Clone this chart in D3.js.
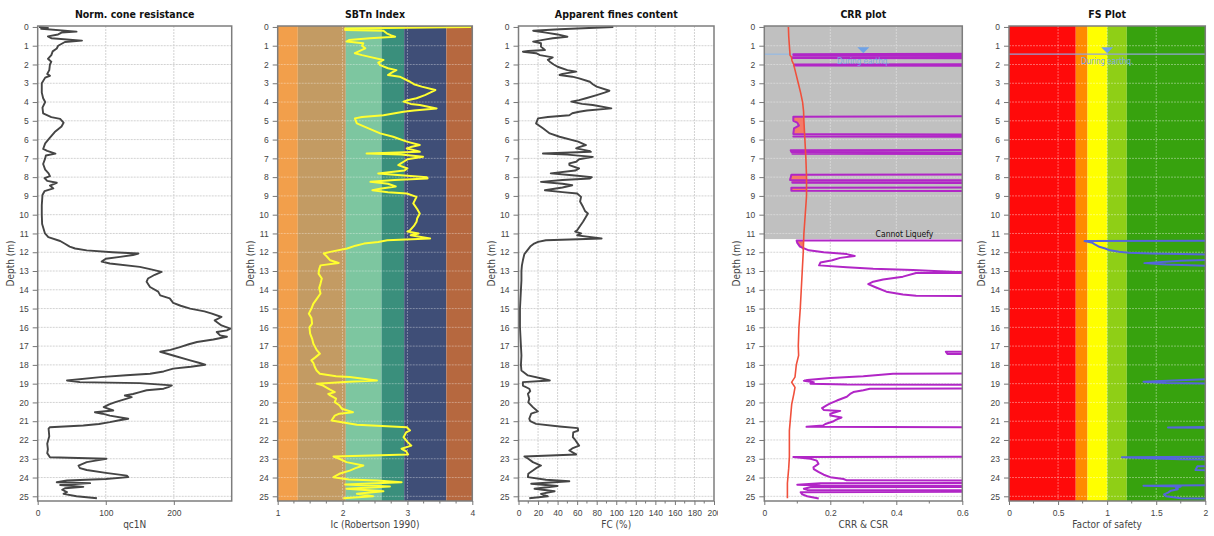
<!DOCTYPE html>
<html><head><meta charset="utf-8">
<script src="https://cdn.jsdelivr.net/npm/d3@7"></script>
<style>
body{margin:0;background:#fff}
text{font-family:"DejaVu Sans Condensed","DejaVu Sans",sans-serif}
</style>
</head><body>
<svg id="c" width="1214" height="536"></svg>
<script>
// ---------------- DATA ----------------
const depthTicks = [0,1,2,3,4,5,6,7,8,9,10,11,12,13,14,15,16,17,18,19,20,21,22,23,24,25];
const qcTicks = [0,100,200];
const icTicks = [1,2,3,4];
const fcTicks = [0,20,40,60,80,100,120,140,160,180,200];
const crrTicks = [0,0.2,0.4,0.6];
const fsTicks = [0,0.5,1,1.5,2];

// SBTn zone boundaries (Ic) and FS class boundaries
const icZones = [1,1.31,2.05,2.6,2.95,3.6,4];
const fsZones = [0,0.68,0.8,1.0,1.2,2];
const gwtDepth = 1.45;
const cannotLiquefyDepth = 11.3;

// [depth (m), qc1N]
const qc1N = [[0.0,2],[0.05,15],[0.1,5],[0.25,57],[0.3,35],[0.4,30],[0.5,15],[0.6,20],[0.73,65],[0.8,40],[1.0,30],[1.15,28],[1.3,22],[1.5,20],[1.7,15],[1.85,20],[2.0,18],[2.3,17],[2.5,14],[2.6,18],[2.7,11],[3.0,6],[3.5,6],[3.8,8],[4.0,11],[4.3,7],[4.6,8],[4.8,20],[4.9,33],[5.1,38],[5.3,35],[5.6,25],[5.9,18],[6.2,11],[6.5,8],[6.6,14],[6.75,26],[6.85,12],[7.0,11],[7.3,8],[7.6,11],[7.8,16],[7.95,18],[8.05,10],[8.2,14],[8.3,28],[8.45,18],[8.6,23],[8.75,10],[8.95,7],[9.5,6],[10,6],[10.5,6.5],[11.0,10.7],[11.2,15.6],[11.4,33],[11.55,40],[11.7,47],[11.8,55],[11.9,72],[12.0,110],[12.07,148],[12.15,140],[12.25,121],[12.35,100],[12.5,94],[12.6,106],[12.78,150],[12.9,165],[13.05,182],[13.2,172],[13.4,162],[13.57,160],[13.85,165],[14.1,177],[14.3,180],[14.46,194],[14.7,199],[14.85,210],[15.0,224],[15.15,245],[15.27,256],[15.45,270],[15.63,260],[15.9,270],[16.07,283],[16.16,278],[16.25,263],[16.43,268],[16.5,278],[16.65,258],[16.78,234],[16.9,222],[17.05,209],[17.2,195],[17.3,180],[17.5,199],[17.76,224],[17.9,238],[17.99,246],[18.1,225],[18.2,199],[18.35,185],[18.47,165],[18.55,130],[18.65,92],[18.83,43],[18.92,62],[18.97,150],[19.09,197],[19.18,192],[19.27,185],[19.35,160],[19.45,150],[19.55,140],[19.63,128],[19.72,138],[19.8,131],[19.98,114],[20.1,105],[20.25,97],[20.43,111],[20.52,84],[20.6,95],[20.7,106],[20.87,133],[20.95,120],[21.05,106],[21.15,90],[21.23,67],[21.32,18],[21.4,16],[21.8,17],[22.2,14],[22.5,15],[22.7,14],[22.92,18],[23.0,101],[23.1,85],[23.18,72],[23.36,60],[23.5,62],[23.6,72],[23.75,100],[23.9,131],[23.98,133],[24.08,100],[24.16,43],[24.25,28],[24.3,77],[24.4,33],[24.5,67],[24.57,40],[24.65,36],[24.78,43],[24.87,38],[25.0,57],[25.1,87]];

// [depth, Ic]
const icRobertson = [[0.0,3.98],[0.08,2.04],[0.16,2.04],[0.2,2.63],[0.34,2.68],[0.45,2.75],[0.52,2.81],[0.6,2.42],[0.7,2.1],[0.78,2.06],[0.87,2.32],[1.0,2.3],[1.14,2.35],[1.3,2.25],[1.4,2.19],[1.5,2.3],[1.58,2.4],[1.76,2.63],[1.9,2.55],[2.03,2.58],[2.2,2.7],[2.3,2.83],[2.45,2.75],[2.56,2.7],[2.65,2.88],[2.92,3.04],[3.05,3.1],[3.18,3.22],[3.36,3.43],[3.5,3.35],[3.63,3.27],[3.8,3.14],[3.9,3.0],[3.98,2.94],[4.1,3.05],[4.16,3.19],[4.34,3.45],[4.45,3.1],[4.52,2.94],[4.7,2.63],[4.8,2.3],[4.87,2.19],[5.14,2.22],[5.4,2.4],[5.67,2.58],[5.85,2.78],[6.11,2.99],[6.29,3.19],[6.4,3.05],[6.47,2.99],[6.6,3.15],[6.65,3.19],[6.74,2.37],[6.8,2.9],[6.92,3.24],[7.05,3.0],[7.18,2.94],[7.27,2.9],[7.36,2.86],[7.54,3.0],[7.65,2.95],[7.8,2.55],[7.9,2.9],[8.0,3.3],[8.07,3.31],[8.15,2.8],[8.25,2.43],[8.35,2.7],[8.5,2.82],[8.6,2.6],[8.7,2.46],[8.8,2.7],[8.87,2.99],[9.05,3.14],[9.4,3.09],[9.7,3.15],[9.94,3.19],[10.2,3.15],[10.38,3.14],[10.6,3.1],[10.83,3.04],[10.9,3.0],[11.0,3.17],[11.1,3.05],[11.27,3.35],[11.36,2.69],[11.45,2.55],[11.54,2.33],[11.65,2.2],[11.8,2.07],[11.98,1.81],[12.07,1.71],[12.2,1.75],[12.43,1.81],[12.57,1.94],[12.7,1.66],[12.9,1.64],[13.14,1.63],[13.4,1.68],[13.67,1.66],[13.9,1.64],[14.2,1.66],[14.5,1.6],[14.74,1.55],[15.0,1.52],[15.27,1.48],[15.5,1.52],[15.8,1.53],[16.0,1.49],[16.34,1.5],[16.6,1.53],[16.87,1.55],[17.0,1.57],[17.2,1.6],[17.4,1.65],[17.6,1.58],[17.76,1.52],[17.9,1.55],[18.1,1.57],[18.3,1.6],[18.47,1.65],[18.6,1.9],[18.65,2.11],[18.83,2.53],[18.9,2.1],[19.0,1.6],[19.1,1.7],[19.3,1.8],[19.45,1.88],[19.55,1.78],[19.63,1.81],[19.8,1.9],[19.98,1.88],[20.15,1.95],[20.34,1.99],[20.52,2.16],[20.6,1.95],[20.7,1.88],[20.96,1.83],[21.19,2.22],[21.32,2.99],[21.49,3.04],[21.6,2.98],[21.85,2.94],[22.1,3.0],[22.3,3.06],[22.47,2.91],[22.6,2.98],[22.77,3.01],[22.88,1.86],[23.0,1.95],[23.18,2.06],[23.36,2.32],[23.5,2.2],[23.63,2.11],[23.8,1.95],[23.98,1.86],[24.1,2.1],[24.16,2.53],[24.25,2.91],[24.37,2.04],[24.48,2.73],[24.6,2.06],[24.73,2.63],[24.87,2.22],[25.0,2.47],[25.1,2.01]];

// [depth, FC %]
const finesContent = [[0.0,97],[0.08,60],[0.12,42],[0.2,15],[0.3,28],[0.4,40],[0.52,50],[0.6,35],[0.66,28],[0.78,15],[0.87,23],[1.05,23],[1.23,27],[1.28,10],[1.32,4.5],[1.4,18],[1.5,22],[1.62,35],[1.75,30],[1.85,32],[2.0,36],[2.12,40],[2.3,50],[2.38,59],[2.5,45],[2.56,42],[2.65,55],[2.74,62],[2.92,73],[3.05,76],[3.18,80],[3.4,93],[3.5,88],[3.63,80],[3.8,69],[3.9,62],[3.98,54],[4.1,65],[4.16,76],[4.34,95],[4.45,70],[4.52,62],[4.6,55],[4.7,52],[4.8,30],[4.87,20],[5.14,18],[5.4,25],[5.67,32],[5.85,42],[6.11,61],[6.29,69],[6.4,62],[6.47,59],[6.6,72],[6.65,74],[6.74,25],[6.8,50],[6.92,76],[7.05,62],[7.18,59],[7.27,52],[7.36,52],[7.54,62],[7.65,58],[7.8,33],[7.9,55],[8.0,75],[8.07,73],[8.15,45],[8.25,23],[8.35,45],[8.43,55],[8.55,45],[8.7,27],[8.8,45],[8.87,60],[9.05,64],[9.3,63],[9.58,66],[9.8,68],[9.94,71],[10.2,68],[10.38,66],[10.6,63],[10.83,60],[10.9,58],[11.0,64],[11.1,60],[11.27,85],[11.36,28],[11.45,20],[11.54,16],[11.7,12],[11.9,9],[12.1,6],[12.43,4.5],[12.7,3.5],[13.0,3],[13.5,3],[14,2.5],[14.5,2],[15,1.5],[15.5,1.5],[16,1.5],[16.5,2],[17,2.5],[17.5,3],[18,2.5],[18.3,3],[18.56,9.6],[18.74,25],[18.83,32],[18.92,4.5],[19.1,4.5],[19.27,11],[19.4,12],[19.54,9.6],[19.8,11],[20.0,10],[20.25,14.7],[20.48,19.8],[20.6,13],[20.87,11],[21.0,12],[21.14,18],[21.28,42],[21.37,60.7],[21.5,61],[21.6,56],[21.85,55.6],[22.0,58],[22.3,62],[22.45,55],[22.56,52],[22.77,59],[22.88,6],[23.0,10],[23.18,14.7],[23.36,23],[23.5,18],[23.63,14.7],[23.8,10],[23.98,9.6],[24.12,28],[24.2,52],[24.33,13],[24.45,40],[24.6,16.4],[24.73,37],[24.87,23],[25.0,30],[25.1,11]];

// [depth, CRR]  (values of 1.0 lie beyond the 0.6 axis limit)
const crr = [[1.40,1.0],[1.45,0.088],[1.50,0.088],[1.51,1.0],[1.60,1.0],[1.62,0.085],[1.66,0.086],[1.67,1.0],[1.98,1.0],[2.0,0.09],[2.06,0.09],[2.07,1.0],[4.75,1.0],[4.78,0.088],[5.0,0.088],[5.1,0.1],[5.25,0.105],[5.4,0.09],[5.7,0.088],[5.75,1.0],[5.8,1.0],[5.83,0.088],[5.86,1.0],[6.55,1.0],[6.57,0.08],[6.66,0.082],[6.7,1.0],[6.72,1.0],[6.75,0.085],[6.78,1.0],[7.85,1.0],[7.87,0.082],[8.15,0.078],[8.17,1.0],[8.18,1.0],[8.21,0.085],[8.3,0.085],[8.32,1.0],[8.55,1.0],[8.57,0.082],[8.72,0.082],[8.75,1.0],[11.36,1.0],[11.38,0.098],[11.5,0.1],[11.7,0.108],[11.9,0.135],[12.0,0.18],[12.1,0.25],[12.2,0.274],[12.3,0.23],[12.43,0.206],[12.55,0.17],[12.7,0.166],[12.8,0.25],[12.88,0.33],[12.95,0.45],[13.05,0.58],[13.07,1.0],[13.09,1.0],[13.11,0.46],[13.3,0.42],[13.45,0.36],[13.57,0.33],[13.7,0.315],[13.85,0.335],[14.1,0.37],[14.25,0.42],[14.32,0.46],[14.37,1.0],[17.28,1.0],[17.3,0.55],[17.42,0.555],[17.44,1.0],[18.45,1.0],[18.47,0.39],[18.6,0.3],[18.7,0.2],[18.8,0.13],[18.85,0.12],[18.92,0.15],[19.0,0.14],[19.05,0.25],[19.07,1.0],[19.25,1.0],[19.27,0.32],[19.35,0.3],[19.45,0.27],[19.55,0.26],[19.7,0.25],[19.9,0.22],[20.05,0.2],[20.14,0.19],[20.3,0.175],[20.4,0.18],[20.45,0.23],[20.5,0.22],[20.6,0.2],[20.7,0.2],[20.8,0.234],[20.9,0.22],[21.0,0.21],[21.15,0.185],[21.23,0.178],[21.3,0.128],[21.33,1.0],[22.88,1.0],[22.91,0.088],[23.0,0.14],[23.1,0.159],[23.27,0.164],[23.45,0.149],[23.55,0.15],[23.7,0.164],[23.85,0.18],[23.98,0.2],[24.08,0.24],[24.15,0.25],[24.18,1.0],[24.28,1.0],[24.3,0.17],[24.38,0.1],[24.42,0.17],[24.45,1.0],[24.5,1.0],[24.52,0.14],[24.6,0.12],[24.66,0.13],[24.68,1.0],[24.75,1.0],[24.78,0.11],[24.9,0.115],[25.0,0.13],[25.12,0.165]];

// [depth, CSR]
const csr = [[0,0.073],[0.5,0.074],[1.0,0.076],[1.5,0.078],[1.6,0.082],[1.8,0.084],[2.0,0.089],[2.5,0.096],[3.0,0.103],[3.5,0.11],[4.0,0.116],[4.5,0.119],[5.0,0.12],[6.0,0.123],[7.0,0.126],[8.0,0.128],[9.0,0.128],[10.0,0.124],[11.0,0.12],[12.0,0.118],[13,0.115],[14,0.112],[15,0.109],[16,0.105],[17,0.103],[17.5,0.104],[18,0.097],[18.65,0.093],[18.92,0.083],[19.2,0.093],[19.5,0.09],[20.1,0.083],[21.5,0.076],[22.9,0.076],[23.5,0.074],[24.3,0.07],[25.1,0.07]];

// [depth, FS]  (values of 2.5 lie beyond the 2.0 axis limit)
const factorOfSafety = [[11.38,2.5],[11.40,0.77],[11.5,0.85],[11.6,0.88],[11.71,0.92],[11.8,0.98],[11.9,1.03],[11.98,1.12],[12.03,1.22],[12.07,1.45],[12.1,1.76],[12.15,2.5],[12.35,2.5],[12.45,1.75],[12.58,1.38],[12.65,1.6],[12.72,2.0],[12.78,2.5],[18.7,2.5],[18.8,1.8],[18.9,1.37],[18.96,1.6],[19.02,2.5],[21.28,2.5],[21.33,1.62],[21.37,2.5],[22.88,2.5],[22.92,1.15],[22.98,1.5],[23.03,1.75],[23.06,2.5],[23.35,2.5],[23.4,1.92],[23.6,1.9],[23.68,2.5],[24.4,2.5],[24.44,1.37],[24.48,1.75],[24.55,1.7],[24.62,1.72],[24.7,1.65],[24.8,1.62],[24.9,1.58],[25.0,1.6],[25.1,1.75],[25.15,2.5]];

// ---------------- STYLE / LAYOUT ----------------
const icColors = ["#f29f4b","#c39b63","#7dc6a0","#3a8f7c","#3f4e77","#b6683f"];
const fsColors = ["#ff0a0a","#ff8a00","#ffff00","#8fcf16","#37a20e"];

const svg = d3.select("#c");
const PY0 = 26, PY1 = 501;
const y = d3.scaleLinear().domain([-0.05, 25.25]).range([PY0, PY1]);
const FS_T = 8.5, FS_L = 10;

function makePanel(o) {
  const x = d3.scaleLinear().domain(o.domain).range([o.left, o.right]);
  const g = svg.append("g");
  const cid = "clip" + o.key;
  svg.append("defs").append("clipPath").attr("id", cid).append("rect")
    .attr("x", o.left).attr("y", PY0).attr("width", o.right - o.left).attr("height", PY1 - PY0);
  const bg = g.append("g").attr("clip-path", `url(#${cid})`);
  const grid = g.append("g").attr("clip-path", `url(#${cid})`);
  const marks = g.append("g").attr("clip-path", `url(#${cid})`);

  grid.selectAll("line.h").data(depthTicks.slice(1)).join("line")
    .attr("x1", o.left).attr("x2", o.right).attr("y1", d => y(d)).attr("y2", d => y(d))
    .attr("stroke", o.gridColor).attr("stroke-width", 1).attr("stroke-dasharray", "2,1");
  grid.selectAll("line.v").data(o.grid).join("line")
    .attr("y1", PY0).attr("y2", PY1).attr("x1", d => x(d)).attr("x2", d => x(d))
    .attr("stroke", o.gridColor).attr("stroke-width", 1).attr("stroke-dasharray", "2,1");

  svg.append("text").attr("x", (o.left + o.right) / 2).attr("y", 18).attr("text-anchor", "middle")
    .attr("font-size", 10.5).attr("font-weight", "bold").attr("fill", "#111").text(o.title);

  const la = svg.append("g").attr("transform", `translate(${o.left},0)`)
    .call(d3.axisLeft(y).tickValues(depthTicks).tickSize(5).tickPadding(4));
  la.select(".domain").remove();
  la.selectAll("line").attr("stroke", "#777");
  la.selectAll("text").attr("font-size", FS_T).attr("fill", "#444").style("font-family", "inherit");

  const ba = svg.append("g").attr("transform", `translate(0,${PY1})`);
  if (o.clipAxisRight) {
    svg.append("defs").append("clipPath").attr("id", cid + "ax").append("rect")
      .attr("x", o.left - 20).attr("y", -5).attr("width", o.clipAxisRight - o.left + 20).attr("height", 40);
    ba.attr("clip-path", `url(#${cid}ax)`);
  }
  ba.call(d3.axisBottom(x).tickValues(o.ticks).tickSize(4).tickPadding(5).tickFormat(o.fmt || (d => d)));
  ba.select(".domain").remove();
  ba.selectAll("line").attr("stroke", "#777");
  ba.selectAll("text").attr("font-size", FS_T).attr("fill", "#444").style("font-family", "inherit");
  if (o.minor) {
    ba.selectAll("line.minor").data(o.minor).join("line").attr("class", "minor")
      .attr("x1", d => x(d)).attr("x2", d => x(d)).attr("y1", 0).attr("y2", 2.5).attr("stroke", "#777");
  }

  svg.append("text").attr("x", (o.left + o.right) / 2).attr("y", 527.5).attr("text-anchor", "middle")
    .attr("font-size", FS_L).attr("fill", "#444").text(o.xlabel);
  svg.append("text").attr("transform", `translate(${o.left - 24},${(PY0 + PY1) / 2}) rotate(-90)`)
    .attr("text-anchor", "middle").attr("font-size", FS_L).attr("fill", "#444").text("Depth (m)");

  return { x, g, bg, grid, marks, frame: () =>
    g.append("rect").attr("x", o.left).attr("y", PY0).attr("width", o.right - o.left).attr("height", PY1 - PY0)
      .attr("fill", "none").attr("stroke", "#7d7d7d").attr("stroke-width", 1.5) };
}

const profileLine = (x) => d3.line().x(d => x(d[1])).y(d => y(d[0]));

// ---- Panel 1: qc1N
const p1 = makePanel({ key: "p1", left: 37.7, right: 231.7, domain: [0, 285], ticks: qcTicks, grid: [100, 200],
  gridColor: "#d2d2d2", title: "Norm. cone resistance", xlabel: "qc1N" });
p1.marks.append("path").datum(qc1N).attr("d", profileLine(p1.x)).attr("fill", "none")
  .attr("stroke", "#454545").attr("stroke-width", 1.9).attr("stroke-linejoin", "round");
p1.frame();

// ---- Panel 2: SBTn Index
const p2 = makePanel({ key: "p2", left: 277.7, right: 472.3, domain: [1, 4], ticks: icTicks, grid: [2, 3],
  gridColor: "rgba(255,255,255,0.35)", title: "SBTn Index", xlabel: "Ic (Robertson 1990)",
  minor: [1.25, 1.5, 1.75, 2.25, 2.5, 2.75, 3.25, 3.5, 3.75] });
p2.bg.selectAll("rect").data(d3.pairs(icZones)).join("rect")
  .attr("x", d => p2.x(d[0])).attr("width", d => p2.x(d[1]) - p2.x(d[0]))
  .attr("y", PY0).attr("height", PY1 - PY0).attr("fill", (d, i) => icColors[i]);
p2.marks.append("path").datum(icRobertson).attr("d", profileLine(p2.x)).attr("fill", "none")
  .attr("stroke", "#ffff30").attr("stroke-width", 2).attr("stroke-linejoin", "round");
p2.frame();

// ---- Panel 3: Apparent fines content
const p3 = makePanel({ key: "p3", left: 518.5, right: 714, domain: [0, 200], ticks: fcTicks,
  grid: [20, 40, 60, 80, 100, 120, 140, 160, 180], gridColor: "#d2d2d2",
  title: "Apparent fines content", xlabel: "FC (%)", clipAxisRight: 718,
  minor: [10, 30, 50, 70, 90, 110, 130, 150, 170, 190] });
p3.marks.append("path").datum(finesContent).attr("d", profileLine(p3.x)).attr("fill", "none")
  .attr("stroke", "#454545").attr("stroke-width", 1.9).attr("stroke-linejoin", "round");
p3.frame();

// ---- Panel 4: CRR plot
const p4 = makePanel({ key: "p4", left: 764.3, right: 962.3, domain: [0, 0.6], ticks: crrTicks, grid: [0.2, 0.4],
  gridColor: "#d6d6d6", title: "CRR plot", xlabel: "CRR & CSR", fmt: d => d, minor: [0.1, 0.3, 0.5] });
p4.bg.append("rect").attr("x", 764.3).attr("width", 198).attr("y", PY0)
  .attr("height", y(cannotLiquefyDepth) - PY0).attr("fill", "#c0c0c0");
const csrAt = d => {
  for (let i = 1; i < csr.length; i++) {
    if (d <= csr[i][0]) { const a = csr[i - 1], b = csr[i]; return a[1] + (b[1] - a[1]) * (d - a[0]) / (b[0] - a[0]); }
  }
  return csr[csr.length - 1][1];
};
p4.marks.append("path").datum(crr)
  .attr("d", d3.area().y(d => y(d[0])).x0(d => p4.x(Math.min(d[1], csrAt(d[0])))).x1(d => p4.x(csrAt(d[0]))))
  .attr("fill", "#f47a68").attr("stroke", "none");
p4.marks.append("line").attr("x1", 764.3).attr("x2", 962.3).attr("y1", y(gwtDepth)).attr("y2", y(gwtDepth))
  .attr("stroke", "#8cb8ea").attr("stroke-width", 1);
p4.marks.append("path").datum(crr).attr("d", profileLine(p4.x)).attr("fill", "none")
  .attr("stroke", "#b126c6").attr("stroke-width", 2).attr("stroke-linejoin", "round");
p4.marks.append("path").datum(csr).attr("d", profileLine(p4.x)).attr("fill", "none")
  .attr("stroke", "#f0503c").attr("stroke-width", 1.6);
function gwtMarker(p, xv) {
  const cx = p.x(xv), yy = y(gwtDepth);
  p.g.append("path").attr("d", `M${cx - 6},${yy - 7}L${cx + 6},${yy - 7}L${cx},${yy - 1}Z`).attr("fill", "#6fa2e6");
  p.g.append("text").attr("x", cx).attr("y", yy + 10).attr("text-anchor", "middle").attr("font-size", 8)
    .attr("fill", "#7aa6e6").text("During earthq.");
}
gwtMarker(p4, 0.3);
p4.g.append("text").attr("x", p4.x(0.6) - 29).attr("y", y(cannotLiquefyDepth) - 2).attr("text-anchor", "end")
  .attr("font-size", 8.5).attr("fill", "#111").text("Cannot Liquefy");
p4.frame();

// ---- Panel 5: FS plot
const p5 = makePanel({ key: "p5", left: 1009, right: 1205.3, domain: [0, 2], ticks: fsTicks, grid: [0.5, 1, 1.5],
  gridColor: "rgba(255,255,255,0.38)", title: "FS Plot", xlabel: "Factor of safety",
  minor: [0.25, 0.75, 1.25, 1.75] });
p5.bg.selectAll("rect").data(d3.pairs(fsZones)).join("rect")
  .attr("x", d => p5.x(d[0])).attr("width", d => p5.x(d[1]) - p5.x(d[0]))
  .attr("y", PY0).attr("height", PY1 - PY0).attr("fill", (d, i) => fsColors[i]);
p5.marks.append("line").attr("x1", 1009).attr("x2", 1205.3).attr("y1", y(gwtDepth)).attr("y2", y(gwtDepth))
  .attr("stroke", "#93a3d8").attr("stroke-width", 1.3);
p5.marks.append("path").datum(factorOfSafety).attr("d", profileLine(p5.x)).attr("fill", "none")
  .attr("stroke", "#5566dc").attr("stroke-width", 2).attr("stroke-linejoin", "round");
gwtMarker(p5, 1.0);
p5.frame();
</script>
</body></html>
